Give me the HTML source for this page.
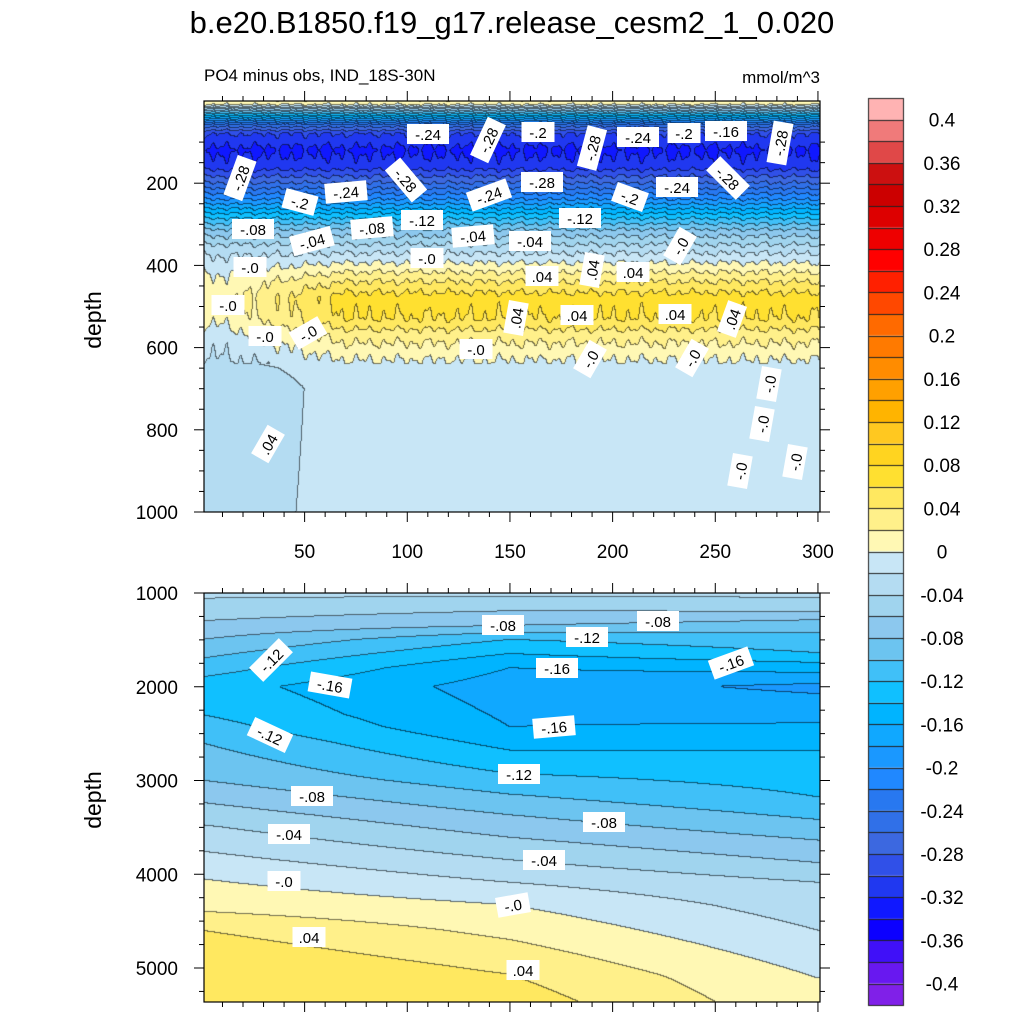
<!DOCTYPE html>
<html><head><meta charset="utf-8">
<style>
body{margin:0;background:#fff;width:1024px;height:1024px;overflow:hidden;font-family:"Liberation Sans",sans-serif;}
#wrap{position:relative;width:1024px;height:1024px;}
canvas{position:absolute;left:0;top:0;}
svg{position:absolute;left:0;top:0;}
</style></head><body>
<div id="wrap">
<canvas id="cv" width="1024" height="1024"></canvas>
<svg id="sv" width="1024" height="1024">
<text x="512" y="33" font-size="31" text-anchor="middle" font-family="Liberation Sans">b.e20.B1850.f19_g17.release_cesm2_1_0.020</text>
<text x="204" y="81" font-size="17" font-family="Liberation Sans">PO4 minus obs, IND_18S-30N</text>
<text x="820" y="83" font-size="17" text-anchor="end" font-family="Liberation Sans">mmol/m^3</text>
<text transform="translate(101,320) rotate(-90)" font-size="23" text-anchor="middle" font-family="Liberation Sans">depth</text>
<text transform="translate(101,800) rotate(-90)" font-size="23" text-anchor="middle" font-family="Liberation Sans">depth</text>
</svg>
</div>
<script>
// ---- data ----
const levelColors = ["#ffb3b3","#f07a7a","#e04848","#cc1010","#cc0000","#dd0000","#ee0000","#ff0000","#ff2000","#ff4800","#ff6a00","#ff7a00","#ff8c00","#ffa000","#ffb400","#ffc820","#ffd420","#ffe030","#ffe860","#fff08a","#fff8b4",
"#c8e6f6","#b4dcf2","#a0d4ee","#8cc8ee","#6cc4f0","#40c0f8","#10c0ff","#00b4ff","#10a8ff","#1a98ff","#2088ff","#2878f0","#3070e8","#3c68e0","#3050e8","#2038f0","#1018ff","#0c00ff","#4010f8","#6818f0","#8020e8"];
const cbarLabels = ["0.4","0.36","0.32","0.28","0.24","0.2","0.16","0.12","0.08","0.04","0","-0.04","-0.08","-0.12","-0.16","-0.2","-0.24","-0.28","-0.32","-0.36","-0.4"];
const topDepths = [0,10,20,40,60,80,120,160,200,240,280,320,360,400,440,480,530,570,620,650,700,1000];
const topMain   = [0.015,0.0,-0.06,-0.16,-0.25,-0.3,-0.325,-0.31,-0.26,-0.2,-0.13,-0.07,-0.03,0.005,0.04,0.07,0.06,0.03,0.005,-0.008,-0.01,-0.01];
const topLeft   = [0.015,0.0,-0.06,-0.16,-0.25,-0.3,-0.325,-0.31,-0.26,-0.2,-0.13,-0.07,-0.03,-0.01,0.005,0.01,0.005,-0.01,-0.02,-0.03,-0.04,-0.035];
const botX = [0,150,300];
const botDepthsLeft = [1000,1300,1500,1800,2000,2300,2600,3000,3500,4000,4400,4600,5000,5360];
const botValsLeft   = [-0.035,-0.06,-0.08,-0.11,-0.13,-0.12,-0.10,-0.08,-0.038,-0.003,0.02,0.04,0.06,0.06];
const botDepthsMid  = [1000,1350,1500,1800,2000,2430,2930,3370,3850,4330,4700,5070,5360];
const botValsMid    = [-0.035,-0.08,-0.12,-0.16,-0.17,-0.16,-0.12,-0.08,-0.04,0.0,0.02,0.04,0.05];
const botDepthsRight= [1000,1050,1200,1290,1430,1640,1850,2000,2390,2680,3180,3420,3640,3880,4090,4600,5110,5360];
const botValsRight  = [-0.03,-0.04,-0.06,-0.08,-0.10,-0.12,-0.16,-0.185,-0.16,-0.14,-0.12,-0.10,-0.08,-0.06,-0.04,-0.02,0.0,0.005];
const topTicksY = [200,400,600,800,1000];
const botTicksY = [1000,2000,3000,4000,5000];
const ticksX = [50,100,150,200,250,300];
const topLabels = [["-.28",240,178,-70],["-.24",428,134,0],["-.28",488,140,-65],["-.2",538,132,0],["-.28",592,148,-75],["-.24",638,137,0],["-.2",684,133,0],["-.16",726,131,0],["-.28",780,143,-80],
["-.2",300,202,15],["-.24",346,192,-5],["-.28",406,180,50],["-.24",489,195,-20],["-.28",542,182,0],["-.2",630,197,20],["-.24",677,187,0],["-.28",728,178,45],
["-.08",253,229,0],["-.04",312,241,-15],["-.08",372,228,-5],["-.12",422,220,0],["-.04",473,236,-5],["-.12",580,218,0],["-.04",530,241,0],["-.0",680,246,-60],
["-.0",250,267,0],["-.0",427,258,0],[".04",542,276,0],[".04",592,270,-80],[".04",633,272,0],["-.0",228,305,0],["-.0",265,336,0],["-.0",308,333,-30],[".04",516,318,-80],[".04",577,315,0],[".04",675,314,0],[".04",732,319,-70],["-.0",476,349,0],["-.0",590,359,-60],["-.0",692,358,-60],["-.0",769,384,-80],["-.0",762,424,-80],["-.0",740,471,-80],["-.0",795,462,-80],[".04",268,444,-60]];
const botLabels = [["-.08",503,625,0],["-.08",658,621,0],["-.12",587,637,0],["-.12",271,660,-45],["-.16",557,668,0],["-.16",731,663,-20],["-.16",330,685,10],["-.12",270,735,25],["-.16",554,727,-5],["-.12",519,774,0],["-.08",312,796,0],["-.08",604,822,0],["-.04",289,834,0],["-.04",544,860,0],["-.0",284,881,0],["-.0",513,905,-10],[".04",309,937,0],[".04",523,970,0]];

// ---- geometry ----
const L=204,R=820,T1=101,B1=512,T2=593,B2=1002;
const xs=v=>L+(v-1)*(R-L)/300;
const yTop=d=>T1+d*(B1-T1)/1000;
const yBot=d=>T2+(d-1000)*(968-T2)/4000;
function interp(xa,ya,x){if(x<=xa[0])return ya[0];for(let i=1;i<xa.length;i++){if(x<=xa[i]){const t=(x-xa[i-1])/(xa[i]-xa[i-1]);return ya[i-1]+t*(ya[i]-ya[i-1]);}}return ya[ya.length-1];}
function topField(x,d){const w=Math.min(1,Math.max(0,(x-10)/60));const base=(1-w)*interp(topDepths,topLeft,d)+w*interp(topDepths,topMain,d);
 const tex=(Math.sin(x*0.9)+0.6*Math.sin(x*0.37+1)+0.5*Math.sin(x*1.9))*(d<640?0.004:0);return base+tex;}
function botField(x,d){const p=[interp(botDepthsLeft,botValsLeft,d),interp(botDepthsMid,botValsMid,d),interp(botDepthsRight,botValsRight,d)];return interp(botX,p,x);}
function idx(v){let k=Math.floor((0.42-v)/0.02);return Math.max(0,Math.min(41,k));}
function hex(c){return [parseInt(c.substr(1,2),16),parseInt(c.substr(3,2),16),parseInt(c.substr(5,2),16)];}
const rgb=levelColors.map(hex);
const cv=document.getElementById('cv');const ctx=cv.getContext('2d');
function paint(x0,y0,x1,y1,fn,xinv,yinv){const w=x1-x0,h=y1-y0;const img=ctx.createImageData(w,h);const K=[];
 for(let j=0;j<h;j++){K[j]=[];for(let i=0;i<w;i++)K[j][i]=idx(fn(xinv(x0+i+0.5),yinv(y0+j+0.5)));}
 for(let j=0;j<h;j++)for(let i=0;i<w;i++){const k=K[j][i];let c=rgb[k];const edge=(i+1<w&&K[j][i+1]!==k)||(j+1<h&&K[j+1][i]!==k);
  if(edge)c=[c[0]*0.45,c[1]*0.45,c[2]*0.45];const o=(j*w+i)*4;img.data[o]=c[0];img.data[o+1]=c[1];img.data[o+2]=c[2];img.data[o+3]=255;}
 ctx.putImageData(img,x0,y0);}
paint(L,T1,R,B1,topField,px=>1+(px-L)*300/(R-L),py=>(py-T1)*1000/(B1-T1));
paint(L,T2,R,B2,botField,px=>1+(px-L)*300/(R-L),py=>1000+(py-T2)*4000/(968-T2));
// colorbar
const CB0=98,CBh=21.6;
levelColors.forEach((c,k)=>{ctx.fillStyle=c;ctx.fillRect(868,CB0+k*CBh,35,CBh);});
ctx.strokeStyle="#222";ctx.lineWidth=1;
for(let k=1;k<42;k++){ctx.beginPath();ctx.moveTo(868,Math.round(CB0+k*CBh)+0.5);ctx.lineTo(903,Math.round(CB0+k*CBh)+0.5);ctx.stroke();}
ctx.strokeRect(868.5,98.5,35,907);

const NS='http://www.w3.org/2000/svg';const sv=document.getElementById('sv');
function el(t,a,txt){const e=document.createElementNS(NS,t);for(const k in a)e.setAttribute(k,a[k]);if(txt!==undefined)e.textContent=txt;sv.appendChild(e);return e;}
[[T1,B1],[T2,B2]].forEach(([t,b],pi)=>{
 const f=el('rect',{x:L,y:t,width:R-L,height:b-t,fill:'none',stroke:'#000','stroke-width':1.2});
 
 
 for(let v=10;v<=300;v+=10){const X=xs(v);const len=(v%50===0)?10:5;
  const t1=el('line',{x1:X,y1:t,x2:X,y2:t-len,stroke:'#000'});
  
  
  const t2=el('line',{x1:X,y1:b,x2:X,y2:b+len,stroke:'#000'});
  
  }
});
for(let d=100;d<=1000;d+=50){const Y=yTop(d);const len=d%200===0?10:5;
 const a=el('line',{x1:L,y1:Y,x2:L-len,y2:Y,stroke:'#000'});
 const b=el('line',{x1:R,y1:Y,x2:R+len,y2:Y,stroke:'#000'});}
for(let d=1000;d<=5300;d+=250){const Y=yBot(d);const len=d%1000===0?10:5;
 const a=el('line',{x1:L,y1:Y,x2:L-len,y2:Y,stroke:'#000'});
 const b=el('line',{x1:R,y1:Y,x2:R+len,y2:Y,stroke:'#000'});}
topTicksY.forEach(d=>{const e=el('text',{x:178,y:yTop(d)+7,'font-size':19,'text-anchor':'end'},String(d));
 
 });
botTicksY.forEach(d=>{const e=el('text',{x:178,y:yBot(d)+7,'font-size':19,'text-anchor':'end'},String(d));
 
 });
ticksX.forEach(v=>{const e=el('text',{x:xs(v),y:558,'font-size':19,'text-anchor':'middle'},String(v));
 
 });
cbarLabels.forEach((s,i)=>{const Y=CB0+CBh*(1+2*i);
 const e=el('text',{x:942,y:Y+7,'font-size':19,'text-anchor':'middle'},s);
 
 });
function clabel(arr,nm){arr.forEach(([s,x,y,r])=>{
 const g=el('g',{transform:`translate(${x},${y}) rotate(${r})`});
 
 
 const w=s.length*9+6;
 const rc=document.createElementNS(NS,'rect');rc.setAttribute('x',-w/2);rc.setAttribute('y',-10);rc.setAttribute('width',w);rc.setAttribute('height',20);rc.setAttribute('fill','#fff');g.appendChild(rc);
 const t=document.createElementNS(NS,'text');t.setAttribute('x',0);t.setAttribute('y',6);t.setAttribute('font-size',15);t.setAttribute('text-anchor','middle');t.textContent=s;g.appendChild(t);});}
clabel(topLabels,'contour-label-top');
clabel(botLabels,'contour-label-bottom');
</script>
</body></html>
